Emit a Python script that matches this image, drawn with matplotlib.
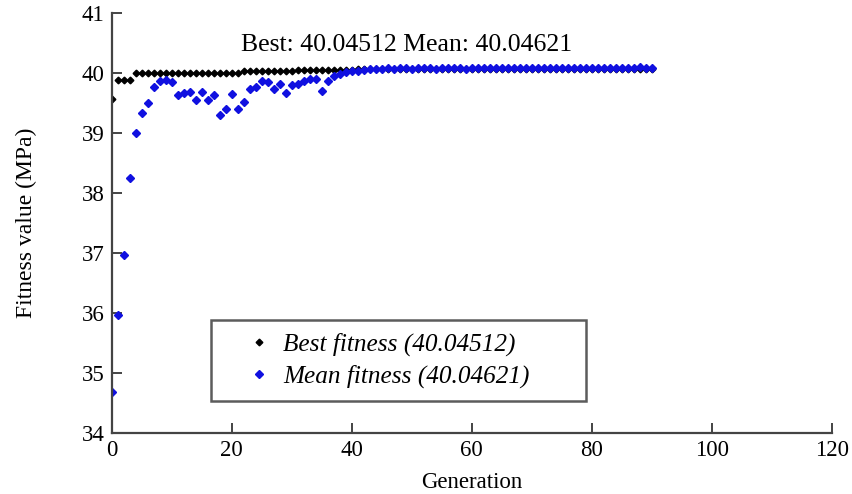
import numpy as np
import matplotlib
matplotlib.use("Agg")
import matplotlib.pyplot as plt

plt.rcParams['font.family'] = ['Liberation Serif', 'DejaVu Serif']
plt.rcParams['mathtext.fontset'] = 'stix'

# generations 0..90
generation = list(range(91))

best_fitness = [39.56, 39.89, 39.89, 39.89] + [40.00] * 18 + [40.03] * 9 + [40.05] * 10 + [40.07] * 50

mean_fitness = [
    34.69, 35.96, 36.97, 38.25, 39.00, 39.34, 39.50, 39.77, 39.86, 39.89,
    39.85, 39.64, 39.67, 39.68, 39.55, 39.68, 39.55, 39.63, 39.30, 39.40,
    39.65, 39.40, 39.52, 39.74, 39.77, 39.86, 39.85, 39.74, 39.81, 39.67,
    39.80, 39.82, 39.86, 39.90, 39.90, 39.70, 39.86, 39.95, 39.99, 40.01,
    40.03, 40.04, 40.05, 40.06, 40.07, 40.06, 40.08, 40.07, 40.08, 40.09,
    40.07, 40.08, 40.09, 40.08, 40.07, 40.09, 40.08, 40.09, 40.08, 40.07,
    40.08, 40.09, 40.08, 40.09, 40.08, 40.08, 40.09, 40.08, 40.09, 40.09,
    40.08, 40.09, 40.08, 40.09, 40.09, 40.08, 40.09, 40.09, 40.08, 40.09,
    40.09, 40.08, 40.09, 40.09, 40.09, 40.08, 40.09, 40.09, 40.10, 40.09,
    40.09,
]

best_label = 'Best fitness (40.04512)'
mean_label = 'Mean fitness (40.04621)'
title_text = 'Best: 40.04512 Mean: 40.04621'

fig = plt.figure(figsize=(8.52, 4.94), dpi=100)
ax = fig.add_axes([0.131, 0.1235, 0.845, 0.850])

ax.plot(generation, best_fitness, linestyle='none', marker='D', ms=3.4,
        color='black', label=best_label)
ax.plot(generation, mean_fitness, linestyle='none', marker='D', ms=4.4,
        color='#1010e0', label=mean_label)

ax.set_xlim(0, 120)
ax.set_ylim(34, 41)
ax.set_xticks([0, 20, 40, 60, 80, 100, 120])
ax.set_yticks(range(34, 42))

for s in ['top', 'right']:
    ax.spines[s].set_visible(False)
for s in ['left', 'bottom']:
    ax.spines[s].set_color('#444444')
    ax.spines[s].set_linewidth(1.6)

ax.tick_params(direction='in', length=7, width=1.4, color='#444444',
               labelsize=16.5, pad=5)

ax.set_xlabel('Generation', fontsize=16.5, labelpad=8)
ax.set_ylabel('Fitness value (MPa)', fontsize=17, labelpad=32)

ax.text(49.2, 40.47, title_text, ha='center', va='center', fontsize=18.5)

leg = ax.legend(loc='lower left', bbox_to_anchor=(0.138, 0.076, 0.521, 0.198),
                mode='expand', fancybox=False, frameon=True, handlelength=2.8,
                handletextpad=-0.45, borderpad=0.5, labelspacing=0.35,
                borderaxespad=0,
                prop={'family': 'Liberation Serif', 'style': 'italic', 'size': 18.2})
leg.get_frame().set_edgecolor('#333333')
leg.get_frame().set_linewidth(1.8)

fig.savefig('out.png', dpi=100)
